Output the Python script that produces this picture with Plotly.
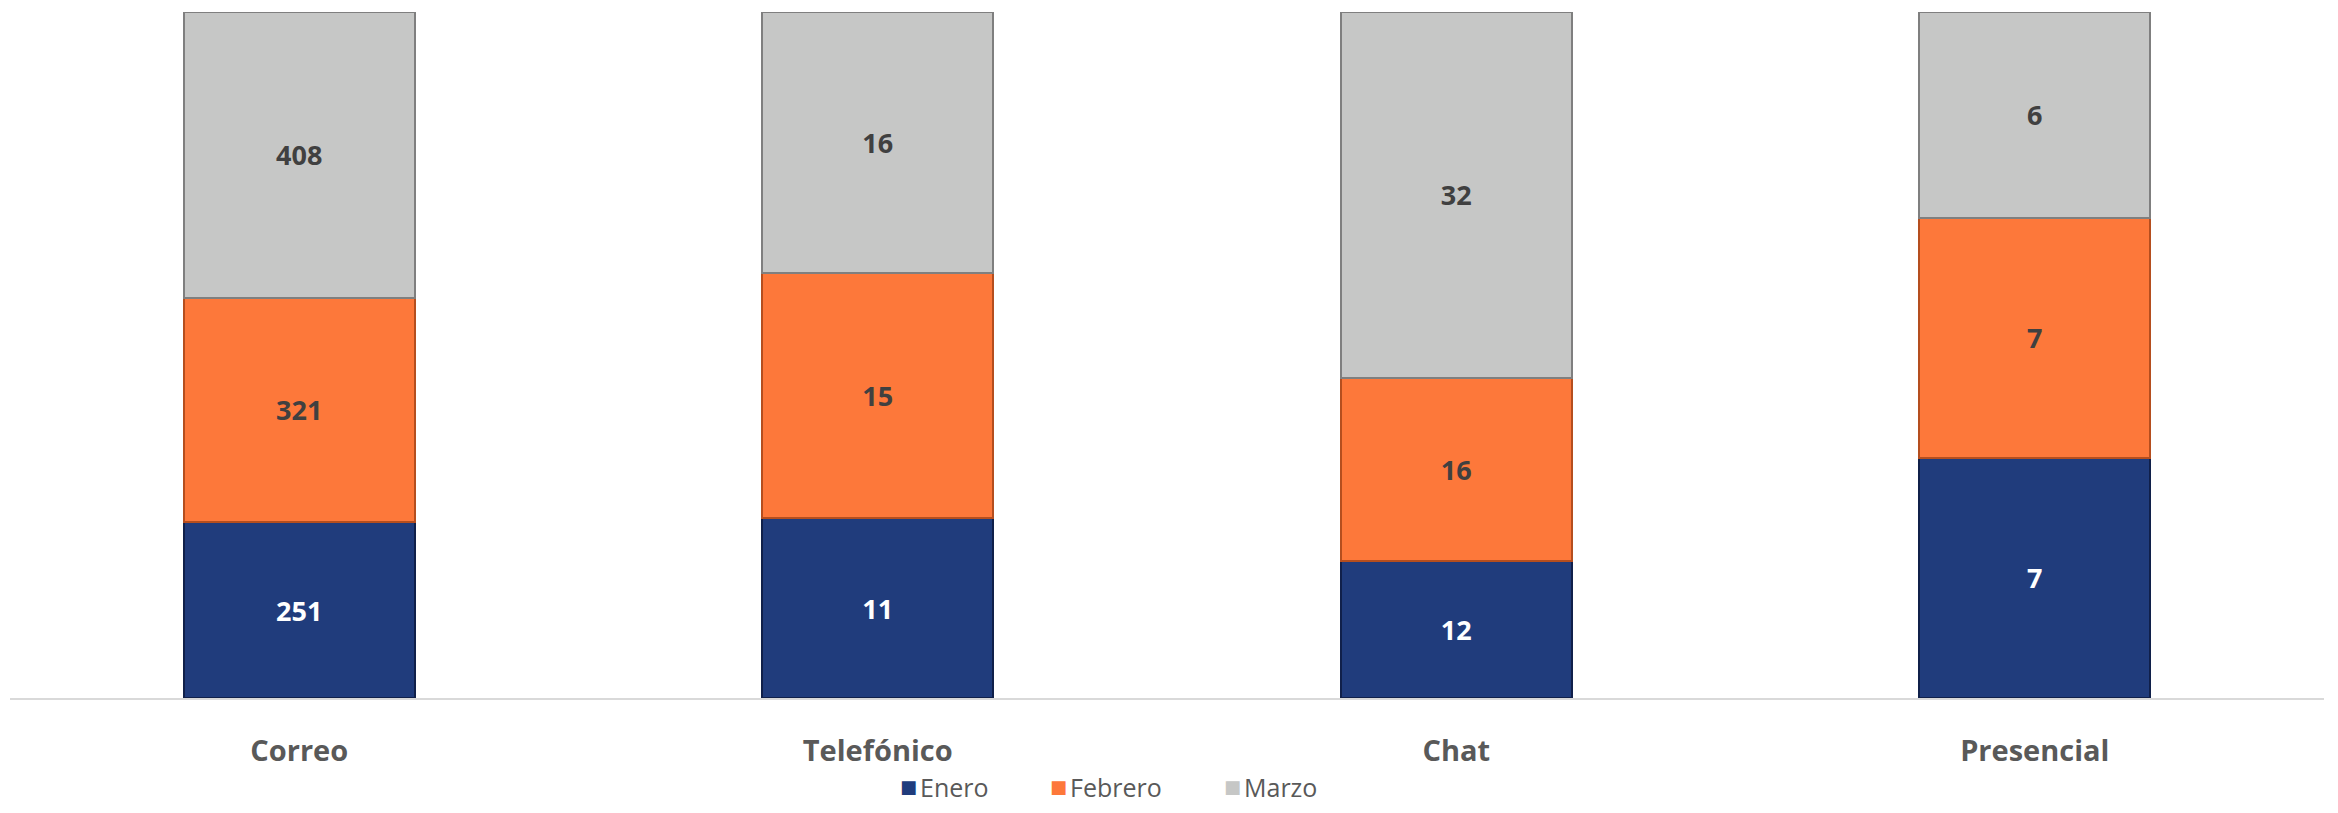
import plotly.graph_objects as go

# Data
canales = ["Correo", "Telefónico", "Chat", "Presencial"]
enero = [251, 11, 12, 7]
febrero = [321, 15, 16, 7]
marzo = [408, 16, 32, 6]

series = [
    ("Enero", enero, "#203C7C", "#10204A", "white"),
    ("Febrero", febrero, "#FD783A", "#B54E1E", "#404040"),
    ("Marzo", marzo, "#C6C7C6", "#7F7F7F", "#404040"),
]

fig = go.Figure()
for name, vals, color, edge, txtcolor in series:
    fig.add_trace(go.Bar(
        name=name,
        x=canales,
        y=vals,
        text=[str(v) for v in vals],
        textposition="inside",
        insidetextanchor="middle",
        textangle=0,
        textfont=dict(family="Open Sans", size=27, color=txtcolor, weight="bold"),
        marker=dict(color=color, line=dict(color=edge, width=2)),
        width=0.4,
        showlegend=False,
    ))

# legend drawn as annotations so it does not push the bottom margin
legend_x = [0.3838, 0.4486, 0.5238]
legend_y = -0.1297
for (name, _, color, _, _), lx in zip(series, legend_x):
    fig.add_annotation(
        x=lx, y=legend_y, xref="paper", yref="paper",
        xanchor="left", yanchor="middle", showarrow=False,
        text="■",
        font=dict(family="DejaVu Sans", size=18, color=color),
    )
    fig.add_annotation(
        x=lx + 0.0088, y=legend_y, xref="paper", yref="paper",
        xanchor="left", yanchor="middle", showarrow=False,
        text=name,
        font=dict(family="Open Sans", size=25, color="#595959"),
    )

# page body keeps its 8px margin, so the figure is sized to fit the window
fig.update_layout(
    barmode="stack",
    barnorm="percent",
    width=2322,
    height=797,
    margin=dict(l=2, r=6, t=4, b=107),
    plot_bgcolor="white",
    paper_bgcolor="white",
    font=dict(family="Open Sans", color="#595959"),
    showlegend=False,
    xaxis=dict(
        showline=True,
        linecolor="#D9D9D9",
        linewidth=2,
        ticks="outside",
        ticklen=26,
        tickcolor="rgba(0,0,0,0)",
        tickfont=dict(size=29, color="#595959", weight="bold"),
        showgrid=False,
    ),
    yaxis=dict(
        range=[0, 100],
        visible=False,
        showgrid=False,
        zeroline=False,
    ),
)

fig.write_html("out.html")
